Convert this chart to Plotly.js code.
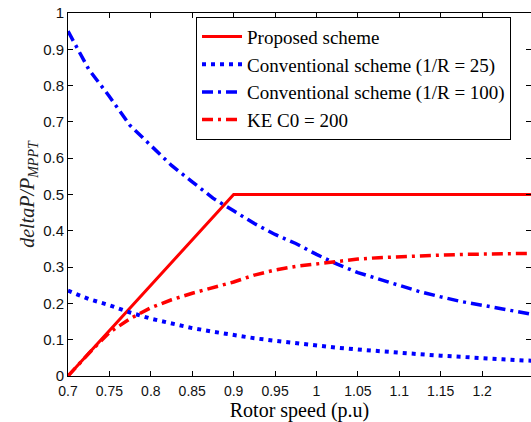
<!DOCTYPE html>
<html>
<head>
<meta charset="utf-8">
<script src="https://cdn.plot.ly/plotly-3.0.1.min.js"></script>
<style>html,body{margin:0;padding:0;background:#fff;}#chart{width:531px;height:422px;}</style>
</head>
<body>
<div id="chart"></div>
<script>
// Rotor speed (p.u) sample points
const speed = [0.700, 0.725, 0.750, 0.775, 0.800, 0.825, 0.850, 0.875, 0.900, 0.925, 0.950, 0.975,
               1.000, 1.025, 1.050, 1.075, 1.100, 1.125, 1.150, 1.175, 1.200, 1.225, 1.250, 1.260];
// Proposed scheme (piecewise)
const proposedX = [0.7, 0.9, 1.26];
const proposedY = [0.0, 0.5, 0.5];
// Conventional scheme (1/R = 25)
const conv25 = [0.235, 0.212, 0.195, 0.175, 0.158, 0.145, 0.132, 0.122, 0.112, 0.104, 0.097, 0.090,
                0.084, 0.078, 0.073, 0.068, 0.064, 0.060, 0.056, 0.052, 0.049, 0.046, 0.043, 0.042];
// Conventional scheme (1/R = 100)
const conv100 = [0.950, 0.845, 0.770, 0.690, 0.635, 0.580, 0.535, 0.490, 0.455, 0.420, 0.390, 0.365,
                 0.335, 0.308, 0.285, 0.267, 0.248, 0.232, 0.218, 0.205, 0.195, 0.184, 0.174, 0.170];
// KE C0 = 200
const keC0 = [0.000, 0.062, 0.120, 0.158, 0.188, 0.210, 0.228, 0.244, 0.259, 0.278, 0.292, 0.302,
              0.309, 0.316, 0.322, 0.326, 0.329, 0.331, 0.333, 0.335, 0.336, 0.337, 0.338, 0.338];

const xTickVals = [0.7, 0.75, 0.8, 0.85, 0.9, 0.95, 1, 1.05, 1.1, 1.15, 1.2];
const xTickText = ["0.7", "0.75", "0.8", "0.85", "0.9", "0.95", "1", "1.05", "1.1", "1.15", "1.2"];
const yTickVals = [0, 0.1, 0.2, 0.3, 0.4, 0.5, 0.6, 0.7, 0.8, 0.9, 1];
const yTickText = ["0", "0.1", "0.2", "0.3", "0.4", "0.5", "0.6", "0.7", "0.8", "0.9", "1"];

const serif = "Liberation Serif, Times New Roman, serif";
const sans = "Liberation Sans, Arial, sans-serif";

const traces = [
  {x: proposedX, y: proposedY, mode: "lines", name: "Proposed scheme",
   line: {color: "#ff0000", width: 3}},
  {x: speed, y: conv25, mode: "lines", name: "Conventional scheme (1/R = 25)",
   line: {color: "#0000ff", width: 4, dash: "4px,5px"}},
  {x: speed, y: conv100, mode: "lines", name: "Conventional scheme (1/R = 100)",
   line: {color: "#0000ff", width: 3.5, dash: "11px,5px,3px,5px"}},
  {x: speed, y: keC0, mode: "lines", name: "KE C0 = 200",
   line: {color: "#ff0000", width: 3.5, dash: "11px,5px,3px,5px"}}
];

const layout = {
  width: 531, height: 422,
  margin: {l: 68, r: 0, t: 13, b: 46, pad: 0},
  paper_bgcolor: "#ffffff", plot_bgcolor: "#ffffff",
  showlegend: true,
  legend: {x: 0.2765, y: 0.99, xanchor: "left", yanchor: "top",
           bgcolor: "#ffffff", bordercolor: "#000000", borderwidth: 1,
           font: {family: serif, size: 19, color: "#000"},
           itemwidth: 40, tracegroupgap: 0},
  xaxis: {range: [0.7, 1.259], tickvals: xTickVals, ticktext: xTickText,
          showgrid: false, zeroline: false, showline: true, linecolor: "#000", linewidth: 1,
          mirror: "ticks", ticks: "inside", ticklen: 5, tickcolor: "#000",
          ticklabelstandoff: 2,
          tickfont: {family: sans, size: 14, color: "#111"},
          title: {text: "Rotor speed (p.u)", font: {family: serif, size: 20, color: "#000"}, standoff: 10}},
  yaxis: {range: [0, 1], tickvals: yTickVals, ticktext: yTickText,
          showgrid: false, zeroline: false, showline: true, linecolor: "#000", linewidth: 1,
          mirror: "ticks", ticks: "inside", ticklen: 5, tickcolor: "#000",
          tickfont: {family: sans, size: 15, color: "#111"},
          title: {text: "<i>deltaP/P</i><sub><i>MPPT</i></sub>", font: {family: serif, size: 20, color: "#222"}, standoff: 3}}
};

Plotly.newPlot("chart", traces, layout, {displayModeBar: false, staticPlot: true});
</script>
</body>
</html>
